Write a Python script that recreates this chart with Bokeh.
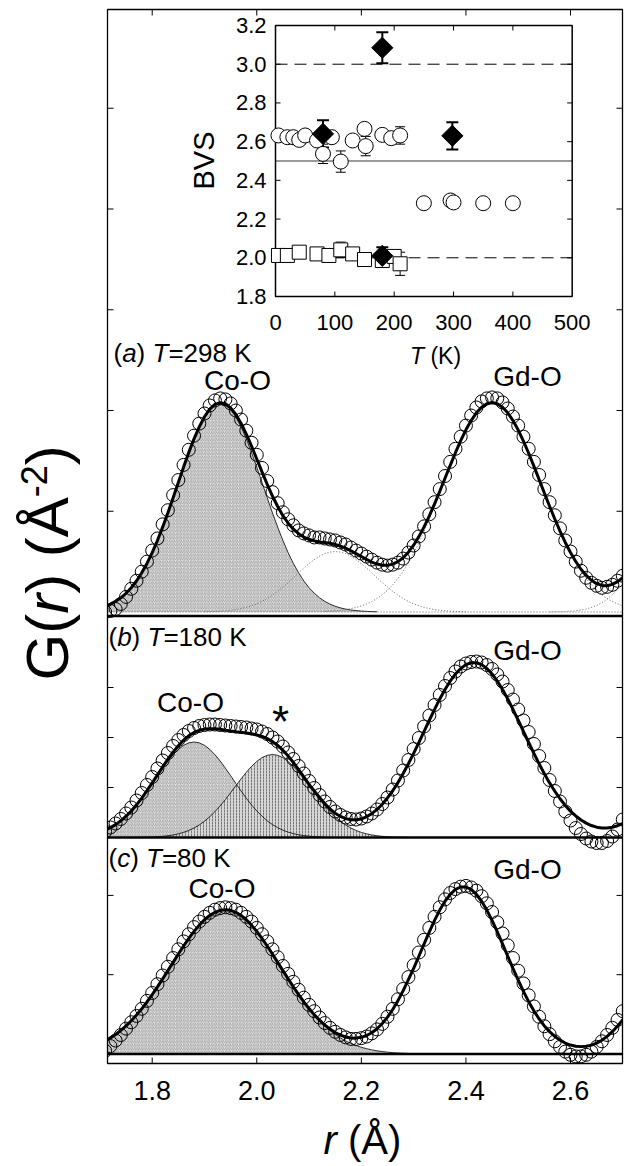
import numpy as np
from bokeh.plotting import figure
from bokeh.models import Range1d, Label
from bokeh.core.properties import value
from bokeh.embed import file_html
from bokeh.resources import INLINE

FONT = "Liberation Sans"

# ------------------------------------------------------------------ data
# r grid (Angstrom) of the measured G(r) points
r = [1.71, 1.72, 1.73, 1.74, 1.75, 1.76, 1.77, 1.78, 1.79, 1.80,
     1.81, 1.82, 1.83, 1.84, 1.85, 1.86, 1.87, 1.88, 1.89, 1.90,
     1.91, 1.92, 1.93, 1.94, 1.95, 1.96, 1.97, 1.98, 1.99, 2.00,
     2.01, 2.02, 2.03, 2.04, 2.05, 2.06, 2.07, 2.08, 2.09, 2.10,
     2.11, 2.12, 2.13, 2.14, 2.15, 2.16, 2.17, 2.18, 2.19, 2.20,
     2.21, 2.22, 2.23, 2.24, 2.25, 2.26, 2.27, 2.28, 2.29, 2.30,
     2.31, 2.32, 2.33, 2.34, 2.35, 2.36, 2.37, 2.38, 2.39, 2.40,
     2.41, 2.42, 2.43, 2.44, 2.45, 2.46, 2.47, 2.48, 2.49, 2.50,
     2.51, 2.52, 2.53, 2.54, 2.55, 2.56, 2.57, 2.58, 2.59, 2.60,
     2.61, 2.62, 2.63, 2.64, 2.65, 2.66, 2.67, 2.68, 2.69, 2.70]

# (a) T = 298 K
data_a = [.00, .01, .03, .08, .15, .23, .31, .40, .50, .61,
          .73, .87, 1.01, 1.16, 1.31, 1.46, 1.61, 1.75, 1.87, 1.97,
          2.05, 2.10, 2.12, 2.11, 2.07, 2.00, 1.91, 1.80, 1.68, 1.56,
          1.43, 1.30, 1.19, 1.08, .99, .92, .86, .81, .78, .76,
          .74, .74, .73, .72, .71, .69, .67, .64, .61, .58,
          .55, .52, .49, .47, .46, .47, .49, .53, .59, .66,
          .75, .85, .97, 1.09, 1.22, 1.35, 1.49, 1.62, 1.74, 1.85,
          1.95, 2.03, 2.09, 2.12, 2.13, 2.12, 2.08, 2.02, 1.94, 1.85,
          1.74, 1.62, 1.49, 1.36, 1.22, 1.09, .96, .83, .71, .60,
          .50, .41, .34, .29, .26, .24, .25, .27, .31, .36]
fit_a = [.057, .078, .106, .141, .186, .241, .308, .389, .482, .589,
         .709, .842, .984, 1.133, 1.286, 1.438, 1.584, 1.719, 1.838, 1.938,
         2.013, 2.060, 2.078, 2.067, 2.026, 1.960, 1.872, 1.765, 1.646, 1.519,
         1.391, 1.267, 1.151, 1.047, .956, .881, .822, .777, .744, .722,
         .706, .695, .691, .682, .670, .654, .633, .608, .579, .551,
         .522, .496, .476, .464, .463, .475, .500, .539, .594, .663,
         .748, .845, .955, 1.073, 1.198, 1.327, 1.456, 1.581, 1.701, 1.808,
         1.900, 1.977, 2.033, 2.068, 2.080, 2.068, 2.033, 1.977, 1.900, 1.806,
         1.697, 1.576, 1.448, 1.315, 1.181, 1.050, .923, .802, .690, .590,
         .501, .424, .363, .315, .281, .264, .261, .274, .301, .341]
# fitted components: (first r, values)
co_o_a = (1.71, [.057, .078, .106, .141, .186, .241, .308, .389, .482, .589,
                 .709, .842, .984, 1.133, 1.286, 1.438, 1.584, 1.719, 1.838, 1.936,
                 2.009, 2.055, 2.070, 2.055, 2.009, 1.936, 1.838, 1.719, 1.584, 1.438,
                 1.286, 1.133, .984, .842, .709, .589, .482, .389, .308, .241,
                 .186, .141, .106, .078, .057, .041, .029, .020, .014, .009,
                 .006, .004, .002])
shoulder_a = (1.90, [.002, .004, .005, .008, .012, .017, .024, .034, .046, .062,
                     .081, .105, .134, .167, .205, .247, .292, .340, .388, .436,
                     .481, .520, .554, .579, .595, .600, .595, .579, .554, .520,
                     .481, .436, .388, .340, .292, .247, .205, .167, .134, .105,
                     .081, .062, .046, .034, .024, .017, .012, .008, .005, .004, .002])
gd_o_a = (2.13, [.006, .009, .013, .018, .025, .034, .045, .061, .080, .104,
                 .134, .172, .216, .270, .333, .405, .489, .582, .686, .799,
                 .921, 1.049, 1.181, 1.315, 1.448, 1.576, 1.697, 1.806, 1.900, 1.977,
                 2.033, 2.068, 2.080, 2.068, 2.033, 1.977, 1.900, 1.806, 1.697, 1.576,
                 1.448, 1.315, 1.181, 1.049, .921, .799, .686, .582, .489, .405,
                 .333, .270, .216, .172, .134, .104, .080, .061])
tail_a = (2.56, [.001, .002, .003, .005, .008, .012, .019, .030, .045, .065,
                 .092, .127, .170, .221, .280])

# (b) T = 180 K
data_b = [.12, .20, .28, .37, .48, .60, .74, .89, 1.05, 1.21,
          1.38, 1.54, 1.69, 1.83, 1.95, 2.05, 2.13, 2.19, 2.23, 2.25,
          2.26, 2.26, 2.25, 2.24, 2.23, 2.22, 2.21, 2.20, 2.18, 2.16,
          2.12, 2.07, 2.00, 1.92, 1.82, 1.70, 1.57, 1.43, 1.28, 1.13,
          .99, .85, .72, .61, .52, .45, .40, .37, .36, .38,
          .42, .48, .56, .67, .80, .96, 1.14, 1.34, 1.55, 1.77,
          1.99, 2.22, 2.44, 2.65, 2.85, 3.03, 3.19, 3.32, 3.42, 3.48,
          3.51, 3.52, 3.50, 3.45, 3.37, 3.26, 3.12, 2.95, 2.76, 2.56,
          2.34, 2.11, 1.87, 1.63, 1.39, 1.15, .93, .72, .52, .34,
          .19, .07, -.02, -.08, -.11, -.11, -.07, .02, .16, .36]
fit_b = [.146, .197, .258, .334, .426, .531, .653, .789, .936, 1.091,
         1.252, 1.411, 1.565, 1.707, 1.836, 1.945, 2.034, 2.100, 2.144, 2.168,
         2.177, 2.173, 2.163, 2.147, 2.131, 2.116, 2.103, 2.089, 2.074, 2.053,
         2.023, 1.978, 1.918, 1.841, 1.743, 1.629, 1.500, 1.359, 1.211, 1.061,
         .932, .799, .680, .570, .485, .421, .377, .354, .353, .372,
         .414, .477, .561, .666, .791, .935, 1.098, 1.279, 1.475, 1.682,
         1.900, 2.123, 2.345, 2.563, 2.770, 2.960, 3.129, 3.270, 3.381, 3.457,
         3.495, 3.495, 3.457, 3.381, 3.270, 3.129, 2.960, 2.770, 2.563, 2.345,
         2.123, 1.900, 1.682, 1.473, 1.275, 1.092, .925, .775, .642, .526,
         .432, .351, .287, .239, .207, .191, .191, .205, .236, .282]
co_o1_b = (1.71, [.146, .197, .258, .334, .426, .531, .651, .785, .930, 1.081,
                  1.236, 1.387, 1.530, 1.656, 1.763, 1.843, 1.893, 1.910, 1.893, 1.843,
                  1.763, 1.656, 1.530, 1.387, 1.236, 1.081, .930, .785, .651, .531,
                  .426, .334, .258, .197, .146, .107, .077, .055, .038, .026,
                  .017, .011, .008])
co_o2_b = (1.77, [.002, .004, .006, .010, .016, .024, .035, .051, .073, .102,
                  .141, .190, .251, .325, .414, .517, .633, .760, .895, 1.035,
                  1.173, 1.304, 1.423, 1.522, 1.597, 1.644, 1.660, 1.644, 1.597, 1.522,
                  1.423, 1.304, 1.173, 1.035, .895, .760, .633, .517, .414, .325,
                  .251, .190, .141, .102, .073, .051, .035, .024, .016, .010,
                  .006, .004, .002])

# (c) T = 80 K
data_c = [.04, .10, .17, .24, .32, .40, .48, .57, .67, .77,
          .88, .99, 1.10, 1.21, 1.32, 1.42, 1.51, 1.60, 1.67, 1.73,
          1.78, 1.82, 1.84, 1.85, 1.84, 1.82, 1.78, 1.73, 1.67, 1.59,
          1.51, 1.42, 1.32, 1.22, 1.11, 1.01, .91, .81, .71, .62,
          .54, .46, .39, .33, .28, .24, .21, .19, .19, .20,
          .22, .26, .31, .38, .47, .57, .69, .82, .97, 1.12,
          1.28, 1.44, 1.59, 1.73, 1.85, 1.95, 2.03, 2.08, 2.11, 2.12,
          2.10, 2.06, 1.99, 1.90, 1.79, 1.66, 1.52, 1.37, 1.21, 1.05,
          .89, .74, .60, .47, .35, .25, .16, .09, .03, -.01,
          -.03, -.03, -.01, .03, .09, .16, .24, .33, .43, .54]
fit_c = [.165, .203, .246, .297, .354, .419, .491, .570, .656, .748,
         .846, .947, 1.051, 1.156, 1.261, 1.362, 1.457, 1.546, 1.625, 1.693,
         1.747, 1.787, 1.812, 1.820, 1.812, 1.787, 1.747, 1.693, 1.625, 1.546,
         1.457, 1.362, 1.261, 1.156, 1.051, .947, .846, .748, .656, .573,
         .496, .427, .365, .314, .270, .238, .214, .202, .200, .210,
         .233, .268, .319, .385, .465, .561, .673, .799, .937, 1.079,
         1.233, 1.389, 1.541, 1.685, 1.815, 1.926, 2.014, 2.075, 2.106, 2.106,
         2.075, 2.014, 1.926, 1.815, 1.685, 1.541, 1.389, 1.233, 1.079, .930,
         .789, .660, .544, .442, .354, .282, .221, .175, .138, .113,
         .098, .093, .098, .112, .138, .173, .222, .281, .352, .432]
co_o_c = (1.71, [.165, .203, .246, .297, .354, .419, .491, .570, .656, .748,
                 .846, .947, 1.051, 1.156, 1.261, 1.362, 1.457, 1.546, 1.625, 1.693,
                 1.747, 1.787, 1.812, 1.820, 1.812, 1.787, 1.747, 1.693, 1.625, 1.546,
                 1.457, 1.362, 1.261, 1.156, 1.051, .947, .846, .748, .656, .570,
                 .491, .419, .354, .297, .246, .203, .165, .134, .107, .085,
                 .067, .052, .040, .031, .023, .017, .013, .010, .007])

x_ticks = [1.8, 2.0, 2.2, 2.4, 2.6]
y_ticks_a = [1, 2, 3, 4, 5]
y_ticks_b = [1, 2, 3]
y_ticks_c = [1, 2]

# inset: bond valence sums
T_ticks = [0, 100, 200, 300, 400, 500]
BVS_ticks = [1.8, 2.0, 2.2, 2.4, 2.6, 2.8, 3.0, 3.2]
circ_T = [5, 20, 30, 40, 50, 70, 80, 95, 110, 130, 150, 152, 180, 195, 210, 250, 295, 300, 350, 400]
circ_B = [2.632, 2.623, 2.623, 2.609, 2.632, 2.606, 2.537, 2.623, 2.497, 2.606,
          2.666, 2.577, 2.635, 2.618, 2.632, 2.282, 2.296, 2.286, 2.282, 2.282]
circ_err = [.02, .02, .02, .02, .02, .02, .05, .02, .055, .02,
            .02, .05, .02, .02, .045, .02, .02, .03, .02, .02]
sq_T = [5, 20, 40, 70, 90, 110, 130, 150, 180, 200, 210]
sq_B = [2.012, 2.012, 2.029, 2.020, 2.012, 2.041, 2.020, 1.991, 1.986, 2.007, 1.969]
sq_err = [.02, .02, .02, .02, .02, .04, .02, .02, .02, .03, .06]
dia_T = [80, 180, 180, 298]
dia_B = [2.64, 3.085, 2.01, 2.63]
dia_err = [.07, .08, .045, .07]
ref_dashed = [2.0, 3.0]
ref_solid = [2.5]

# ------------------------------------------------------------------ layout (page pixels)
W, H, M = 634, 1166, 0                     # canvas size and page offset
CL, CR, CT, CB = M, M + W, M, M + H        # canvas edges on the page
FL, FR, FT, FB = 107, 622, 9, 1063         # drawn frame edges on the page
X_REF = ((1.8, 151.7), (2.6, 570.0))
PANEL = {"default": (611.5, 100.75), "b": (837.0, 50.0), "c": (1053.5, 79.3)}
SEP = {"default": 615.5, "b": 837.0, "c": 1053.5}
INSET_T = ((0.0, 275.0), (500.0, 571.7))
INSET_B = ((3.2, 25.0), (1.8, 296.0))
TICK = 6

ppr = (X_REF[1][1] - X_REF[0][1]) / (X_REF[1][0] - X_REF[0][0])


def rx(px):
    return X_REF[0][0] + (px - X_REF[0][1]) / ppr


def panel_range(name):
    z, k = PANEL[name]
    return Range1d(start=(z - CB) / k, end=(z - CT) / k)


def ya(py):
    z, k = PANEL["default"]
    return (z - py) / k


ppk = (INSET_T[1][1] - INSET_T[0][1]) / (INSET_T[1][0] - INSET_T[0][0])
ppb = (INSET_B[1][1] - INSET_B[0][1]) / (INSET_B[0][0] - INSET_B[1][0])
T_range = Range1d(start=INSET_T[0][0] + (CL - INSET_T[0][1]) / ppk,
                  end=INSET_T[0][0] + (CR - INSET_T[0][1]) / ppk)
B_range = Range1d(start=INSET_B[1][0] - (CB - INSET_B[1][1]) / ppb,
                  end=INSET_B[1][0] + (INSET_B[1][1] - CT) / ppb)

p = figure(width=W, height=H, x_range=Range1d(rx(CL), rx(CR)), y_range=panel_range("default"),
           output_backend="svg", toolbar_location=None, x_axis_location=None,
           y_axis_location=None, min_border=0)
p.extra_y_ranges = {"b": panel_range("b"), "c": panel_range("c"), "bvs": B_range}
p.extra_x_ranges = {"T": T_range}
p.grid.visible = False
p.outline_line_color = None
p.background_fill_color = "white"
p.border_fill_color = "white"

R0, R1 = rx(FL), rx(FR)
TOP, BOT = ya(FT), ya(FB)
dR = TICK / ppr


def seg(start, vals):
    i0 = r.index(start)
    return r[i0:i0 + len(vals)], vals


HATCH = dict(fill_color="#e4e4e4", hatch_pattern="/", hatch_color="#858585",
             hatch_scale=3.5, hatch_weight=0.7)
DOTS = dict(fill_color="#d6d6d6", hatch_pattern=":", hatch_color="#6e6e6e",
            hatch_scale=3, hatch_weight=0.9)
DOTTED = dict(line_color="#666666", line_dash="1 2", line_width=1)
CIRC = dict(marker="circle", size=13, fill_color=None, line_color="black", line_width=1)

# ------------------------------------------------------------------ panel (a)
xs, ys = seg(*co_o_a)
p.varea(x=xs, y1=0, y2=ys, **HATCH)
p.line(xs, ys, line_color="black", line_width=0.8)
for comp in (shoulder_a, gd_o_a, tail_a):
    xs, ys = seg(*comp)
    p.line(xs, ys, **DOTTED)
p.segment(x0=[R0], x1=[R1], y0=[0], y1=[0], **DOTTED)
p.scatter(r, data_a, **CIRC)
p.line(r, fit_a, line_color="black", line_width=3)

# ------------------------------------------------------------------ panel (b)
xs, ys = seg(*co_o1_b)
p.varea(x=xs, y1=0, y2=ys, y_range_name="b", **HATCH)
xs2, ys2 = seg(*co_o2_b)
p.varea(x=xs2, y1=0, y2=ys2, y_range_name="b", **DOTS)
p.line(xs2, ys2, line_color="black", line_width=0.8, y_range_name="b")
p.line(xs, ys, line_color="black", line_width=0.8, y_range_name="b")
p.scatter(r, data_b, y_range_name="b", **CIRC)
p.line(r, fit_b, line_color="black", line_width=3, y_range_name="b")

# ------------------------------------------------------------------ panel (c)
xs, ys = seg(*co_o_c)
p.varea(x=xs, y1=0, y2=ys, y_range_name="c", **HATCH)
p.line(xs, ys, line_color="black", line_width=0.8, y_range_name="c")
p.scatter(r, data_c, y_range_name="c", **CIRC)
p.line(r, fit_c, line_color="black", line_width=3, y_range_name="c")

# white margins outside the drawn frame (hide marks that run past it)
p.quad(left=[rx(CL), R1], right=[R0, rx(CR)], bottom=[ya(CB)] * 2, top=[ya(CT)] * 2,
       fill_color="white", line_color=None)
p.quad(left=[R0, R0], right=[R1, R1], bottom=[ya(CB), TOP], top=[BOT, ya(CT)],
       fill_color="white", line_color=None)

# separators (thick base lines) and frame
for name in ("default", "b", "c"):
    z, k = PANEL[name]
    loc = (z - SEP[name]) / k
    p.segment(x0=[R0], x1=[R1], y0=[loc], y1=[loc], line_color="black", line_width=2.6,
              y_range_name=name)
p.quad(left=[R0], right=[R1], bottom=[BOT], top=[TOP], fill_color=None,
       line_color="black", line_width=1.3)

# ticks (inward) on all sides
for name, ticks in (("default", y_ticks_a), ("b", y_ticks_b), ("c", y_ticks_c)):
    n = len(ticks)
    p.segment(x0=[R0] * n, x1=[R0 + dR] * n, y0=ticks, y1=ticks, line_color="black", y_range_name=name)
    p.segment(x0=[R1 - dR] * n, x1=[R1] * n, y0=ticks, y1=ticks, line_color="black", y_range_name=name)
dA = TICK / PANEL["default"][1]
nx = len(x_ticks)
p.segment(x0=x_ticks, x1=x_ticks, y0=[TOP] * nx, y1=[TOP - dA] * nx, line_color="black")
p.segment(x0=x_ticks, x1=x_ticks, y0=[BOT] * nx, y1=[BOT + dA] * nx, line_color="black")
p.text(x=x_ticks, y=[ya(1090)] * nx, text=[f"{v:.1f}" for v in x_ticks], text_align="center",
       text_baseline="middle", text_font=value(FONT), text_font_size=value("27px"),
       text_color="black")

# ------------------------------------------------------------------ inset
iT = dict(x_range_name="T", y_range_name="bvs")
T0, T1 = T_ticks[0], T_ticks[-1]
B0, B1 = BVS_ticks[0], BVS_ticks[-1]
p.quad(left=[T0], right=[T1], bottom=[B0], top=[B1], fill_color="white",
       line_color="black", line_width=1.5, **iT)
p.segment(x0=[T0] * len(ref_dashed), x1=[T1] * len(ref_dashed), y0=ref_dashed, y1=ref_dashed,
          line_color="black", line_width=1, line_dash="12 7", **iT)
p.segment(x0=[T0], x1=[T1], y0=ref_solid, y1=ref_solid, line_color="black", line_width=0.8, **iT)
dT, dB = 5 / ppk, 5 / ppb
inner_B = BVS_ticks[1:-1]
inner_T = T_ticks[1:-1]
p.segment(x0=[T0] * len(inner_B), x1=[T0 + dT] * len(inner_B), y0=inner_B, y1=inner_B, line_color="black", **iT)
p.segment(x0=[T1 - dT] * len(inner_B), x1=[T1] * len(inner_B), y0=inner_B, y1=inner_B, line_color="black", **iT)
p.segment(x0=inner_T, x1=inner_T, y0=[B0] * len(inner_T), y1=[B0 + dB] * len(inner_T), line_color="black", **iT)
p.segment(x0=inner_T, x1=inner_T, y0=[B1 - dB] * len(inner_T), y1=[B1] * len(inner_T), line_color="black", **iT)

TICK_FS = 22
p.text(x=[T0] * len(BVS_ticks), y=BVS_ticks,
       text=[f"{b:.1f}" for b in BVS_ticks], x_offset=-9, text_align="right",
       text_baseline="middle", text_font=value(FONT), text_font_size=value(f"{TICK_FS}px"),
       text_color="black", **iT)
p.text(x=T_ticks, y=[B0 - 26 / ppb] * len(T_ticks), text=[str(t) for t in T_ticks],
       text_align="center", text_baseline="middle", text_font=value(FONT),
       text_font_size=value(f"{TICK_FS}px"), text_color="black", **iT)


def errbars(xv, yv, ev, cap, lw):
    lo = [y - e for y, e in zip(yv, ev)]
    hi = [y + e for y, e in zip(yv, ev)]
    p.segment(x0=xv, x1=xv, y0=lo, y1=hi, line_color="black", line_width=lw, **iT)
    p.scatter(x=xv + xv, y=lo + hi, marker="dash", size=cap, line_color="black", line_width=lw, **iT)


errbars(circ_T, circ_B, circ_err, 10, 1)
errbars(sq_T, sq_B, sq_err, 10, 1)
errbars(dia_T, dia_B, dia_err, 12, 2)
p.scatter(sq_T, sq_B, marker="square", size=14, fill_color="white", line_color="black", line_width=1, **iT)
p.scatter(circ_T, circ_B, marker="circle", size=15, fill_color="white", line_color="black", line_width=1, **iT)
p.scatter(dia_T, dia_B, marker="square", angle=np.pi / 4, size=15, fill_color="black",
          line_color="black", line_width=1, **iT)

# ------------------------------------------------------------------ texts
WID = {"(": .333, ")": .333, " ": .278, "a": .556, "b": .556, "c": .5, "T": .611, "=": .584,
       "K": .667, "r": .333, "G": .778, "Å": .667, "-": .333, "*": .389}


def tw(s, size):
    return sum(WID.get(ch, .556) for ch in s) * size


def put(text, px, py, size, style="normal", align="left", angle=0.0):
    p.add_layout(Label(x=rx(px), y=ya(py), text=text, text_font=FONT, text_font_size=f"{size}px",
                       text_font_style=style, text_align=align, text_baseline="middle",
                       angle=angle, text_color="black"))


def rich(parts, px, py, size):
    for text, style in parts:
        if text.strip():
            put(text, px, py, size, style)
        px += tw(text, size)


def panel_label(letter, temp, px, py):
    rich([("(", "normal"), (letter, "italic"), (")", "normal"), (" ", "normal"),
          ("T", "italic"), ("=" + temp + " K", "normal")], px, py, 26)


panel_label("a", "298", 113, 352)
panel_label("b", "180", 108, 636.5)
panel_label("c", "80", 108, 857)
for txt, px, py in (("Co-O", 237, 380), ("Gd-O", 527, 376),
                    ("Co-O", 190, 702), ("Gd-O", 527, 650),
                    ("Co-O", 221.5, 888), ("Gd-O", 527, 869)):
    put(txt, px, py, 28, align="center")
put("*", 280, 721, 44, align="center")

# inset axis titles
put("BVS", 203, 160, 29, align="center", angle=np.pi / 2)
rich([("T", "italic"), (" ", "normal"), ("(K)", "normal")], 409.5, 355, 23)

# main axis titles
rich([("r", "italic"), (" ", "normal"), ("(Å)", "normal")], 323, 1139, 40)
GS = 60
yy = 680
for text, style, size, cx in (("G(", "normal", GS, 47), ("r", "italic", GS, 47),
                              (") (Å", "normal", GS, 47), ("-2", "normal", 36, 33),
                              (")", "normal", GS, 47)):
    put(text, cx, yy, size, style, angle=np.pi / 2)
    yy -= tw(text, size)

open("out.html", "w").write(file_html(p, INLINE))
